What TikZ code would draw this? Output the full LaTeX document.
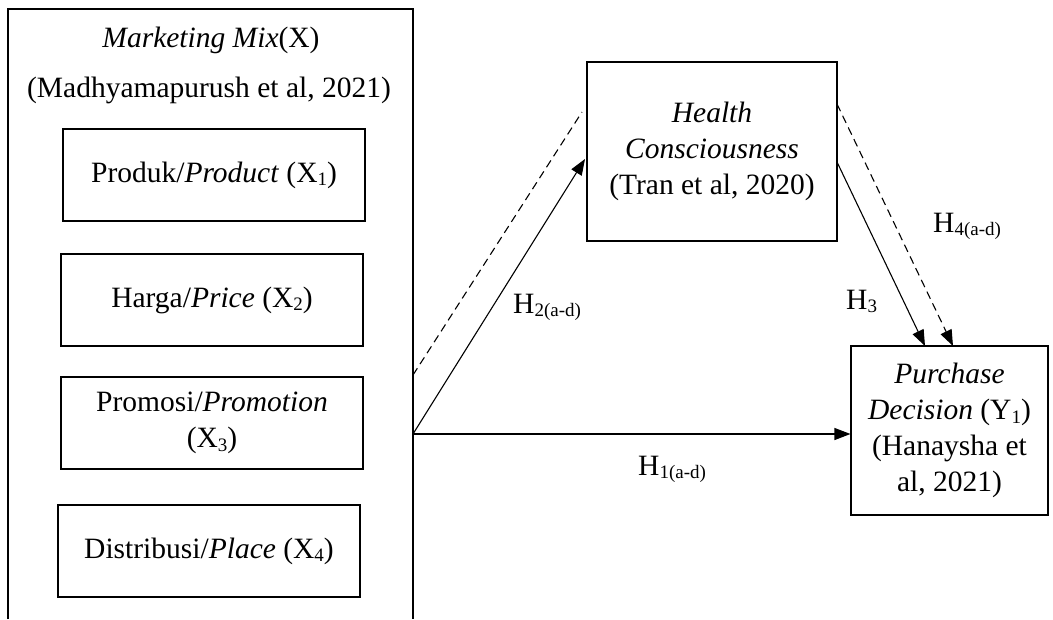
\documentclass[tikz,border=0pt]{standalone}
\usepackage{fontspec}
\setmainfont{Liberation Serif}
\usetikzlibrary{arrows.meta,calc}
\newcommand\mysub[1]{\raisebox{-0.12em}{\fontsize{19}{19}\selectfont #1}}
\tikzset{
  every node/.style={font=\fontsize{29.5}{36}\selectfont, inner sep=0pt, text=black},
  box/.style={draw, line width=1.1pt, align=center},
  ln/.style={line width=1.1pt},
  arr/.style={line width=1.1pt, -{Triangle[length=16pt,width=12pt]}},
  dsh/.style={line width=1.1pt, dash pattern=on 8pt off 5pt},
  lbl/.style={anchor=base west},
}
\begin{document}
\begin{tikzpicture}[x=1pt,y=-1pt]
\useasboundingbox (0,0) rectangle (1053,619);
% outer frame (open at the bottom)
\coordinate (mmBL) at (8,619);
\coordinate (mmTL) at (8,9);
\coordinate (mmTR) at (413,9);
\coordinate (mmBR) at (413,619);
\draw[ln] (mmBL) -- (mmTL) -- (mmTR) -- (mmBR);
\node[anchor=base] (mtitle) at (211,47) {\textit{Marketing Mix}(X)};
\node[anchor=base] (mcite) at (209,97) {(Madhyamapurush et al, 2021)};
% inner boxes
\node[box, minimum width=302pt, minimum height=92pt] (x1) at (214,175) {Produk/\textit{Product} (X\mysub{1})};
\node[box, minimum width=302pt, minimum height=92pt] (x2) at (212,300) {Harga/\textit{Price} (X\mysub{2})};
\node[box, minimum width=302pt, minimum height=92pt] (x3) at (212,423) {Promosi/\textit{Promotion}\\(X\mysub{3})};
\node[box, minimum width=302pt, minimum height=92pt] (x4) at (209,551) {Distribusi/\textit{Place} (X\mysub{4})};
% mediator and outcome
\node[box, minimum width=250pt, minimum height=179pt] (hc) at (712,151.5) {\textit{Health}\\\textit{Consciousness}\\(Tran et al, 2020)};
\node[box, minimum width=197pt, minimum height=169pt] (pd) at (949.5,430.5) {\textit{Purchase}\\\textit{Decision} (Y\mysub{1})\\(Hanaysha et\\al, 2021)};
% connector end points
\coordinate (o1) at (413,434);
\coordinate (o2) at (413,375);
\coordinate (h2t) at (585,159);
\coordinate (h2d) at (582,112);
\coordinate (h3s) at (837,162);
\coordinate (h3t) at (925,346);
\coordinate (h4s) at (837,104);
\coordinate (h4t) at (953,346);
% connectors
\draw[arr] (o1) -- (o1 -| pd.west);
\draw[arr] (o1) -- (h2t);
\draw[dsh] (o2) -- (h2d);
\draw[arr] (h3s) -- (h3t);
\draw[dsh, -{Triangle[length=16pt,width=12pt]}] (h4s) -- (h4t);
% labels
\node[lbl] (lh2) at (513,313) {H\mysub{2(a-d)}};
\node[lbl] (lh1) at (638,475) {H\mysub{1(a-d)}};
\node[lbl] (lh3) at (846,309) {H\mysub{3}};
\node[lbl] (lh4) at (933,232) {H\mysub{4(a-d)}};
\end{tikzpicture}
\end{document}
